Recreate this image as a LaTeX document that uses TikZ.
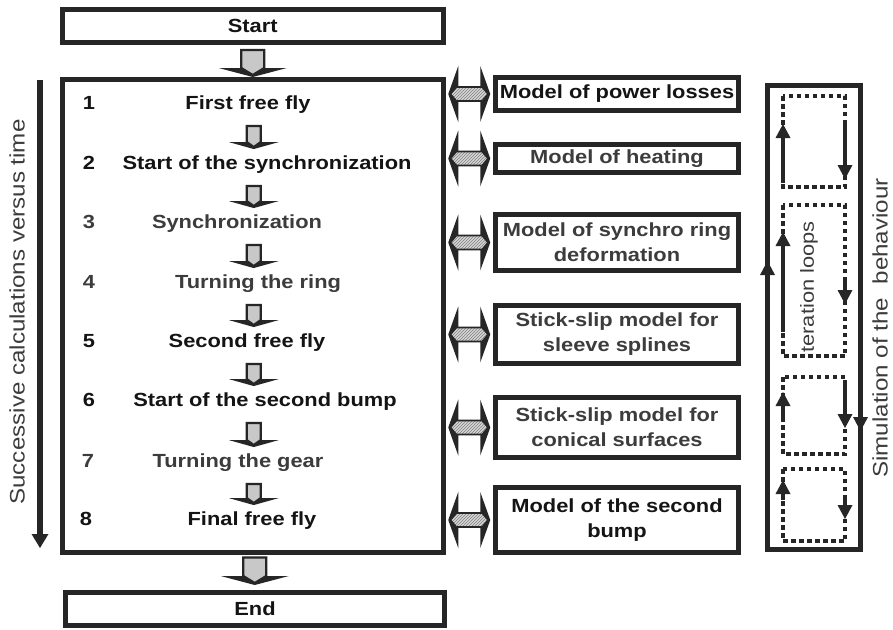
\documentclass[tikz,border=0pt]{standalone}
\usepackage{fontspec}
\setmainfont[FakeStretch=1.15]{Liberation Sans}
\usetikzlibrary{calc,patterns,arrows.meta}
\definecolor{linec}{HTML}{262626}
\definecolor{txtdark}{HTML}{141414}
\definecolor{txtgray}{HTML}{3C3C3C}
\definecolor{arrowgray}{HTML}{C8C8C8}
\definecolor{hatchbg}{HTML}{D6D6D6}

% block arrow: #1 start of shaft, #2 tip, #3 shaft half width, #4 head half width, #5 head length
\newcommand\blockarrow[5]{%
  \fill[linec] let \p1=(#1), \p2=(#2) in
    (\x1-#4pt,\y2+#5pt) -- (\x1+#4pt,\y2+#5pt) -- (\x1,\y2) -- cycle;
  \filldraw[fill=arrowgray, draw=linec, line width=2.2pt, line join=miter] let \p1=(#1), \p2=(#2) in
    (\x1-#3pt,\y1) -- (\x1+#3pt,\y1) -- (\x1+#3pt,\y2+#5pt) -- (\x1,\y2+2pt)
    -- (\x1-#3pt,\y2+#5pt) -- cycle;
}
% double-headed coupling arrow centred on #1
\newcommand\dblarrow[1]{%
  \fill[linec] let \p1=(#1) in
    (\x1-21pt,\y1) -- (\x1-11pt,\y1+28pt) -- (\x1-11pt,\y1+7pt) -- (\x1+11pt,\y1+7pt)
    -- (\x1+11pt,\y1+28pt) -- (\x1+21pt,\y1) -- (\x1+11pt,\y1-28pt) -- (\x1+11pt,\y1-7pt)
    -- (\x1-11pt,\y1-7pt) -- (\x1-11pt,\y1-28pt) -- cycle;
  \path[fill=hatchbg, postaction={pattern=north east lines, pattern color=gray},
        postaction={draw=linec, line width=1.8pt}] let \p1=(#1) in
    (\x1-19pt,\y1) -- (\x1-13pt,\y1+7pt) -- (\x1+13pt,\y1+7pt) -- (\x1+19pt,\y1)
    -- (\x1+13pt,\y1-7pt) -- (\x1-13pt,\y1-7pt) -- cycle;
}

\begin{document}
\begin{tikzpicture}[x=1pt,y=-1pt,
  frame/.style={draw=linec, line width=5pt, rectangle, inner sep=0pt, fill=white},
  steptext/.style={font=\bfseries\fontsize{19}{22}\selectfont, inner sep=0pt,
    text height=13.5pt, text depth=0pt, text=txtdark},
  modelbox/.style={frame, minimum width=243pt, align=center,
    font=\bfseries\fontsize{19}{25}\selectfont, text=txtdark},
  sidetext/.style={rotate=90, font=\fontsize{21}{24}\selectfont, text=txtgray},
  loopline/.style={draw=linec, line width=4pt, dash pattern=on 4.5pt off 3.5pt,
    preaction={draw=white, line width=4pt, solid}},
  looparrow/.style={draw=linec, line width=4pt,
    -{Triangle[length=14pt,width=15pt,line width=0pt]}}
]
\useasboundingbox (0,0) rectangle (893,629);
\fill[white] (0,0) rectangle (893,629);

% start, main block, end
\node[frame, minimum width=380.5pt, minimum height=33pt,
      font=\bfseries\fontsize{19}{22}\selectfont, text=txtdark] (start) at (252.75,26) {Start};
\node[frame, minimum width=380.5pt, minimum height=472.5pt] (main) at (252.75,315.75) {};
\node[frame, minimum width=379pt, minimum height=33pt,
      font=\bfseries\fontsize{19}{22}\selectfont, text=txtdark] (end) at (255,609) {End};

% successive phases
\node[steptext] (n1) at (89,103) {1};
\node[steptext] (s1) at (248,103) {First free fly};
\node[steptext] (n2) at (89,163) {2};
\node[steptext] (s2) at (267,163) {Start of the synchronization};
\node[steptext, text=txtgray] (n3) at (89,222) {3};
\node[steptext, text=txtgray] (s3) at (237,222) {Synchronization};
\node[steptext, text=txtgray] (n4) at (89,282) {4};
\node[steptext, text=txtgray] (s4) at (258,282) {Turning the ring};
\node[steptext] (n5) at (89,341) {5};
\node[steptext] (s5) at (247,341) {Second free fly};
\node[steptext] (n6) at (89,400) {6};
\node[steptext] (s6) at (265,400) {Start of the second bump};
\node[steptext, text=txtgray] (n7) at (88,461) {7};
\node[steptext, text=txtgray] (s7) at (238,461) {Turning the gear};
\node[steptext] (n8) at (86,519) {8};
\node[steptext] (s8) at (252,519) {Final free fly};

% arrows between phases
\blockarrow{$(start.south)+(0,5)$}{main.north}{11.5}{34}{9}
\foreach \a/\b in {s1/s2,s2/s3,s3/s4,s4/s5,s5/s6,s6/s7,s7/s8}{
  \blockarrow{$(main.center |- \a.south)+(1,16)$}{$(main.center |- \b.north)+(1,-7)$}{7}{25}{7}
}
\blockarrow{$(main.south)+(2,3)$}{$(end.north)+(0,-5)$}{11.5}{34}{9}

% time axis
\coordinate (ttop) at (40,80);
\coordinate (tbot) at (40,548);
\draw[linec, line width=6pt, -{Triangle[length=14pt,width=17pt,line width=0pt]}] (ttop) -- (tbot);
\node[sidetext] (timelbl) at (17,312) {Successive calculations versus time};

% sub-models
\node[modelbox, minimum height=33pt] (m1) at (617,94) {Model of power losses};
\node[modelbox, minimum height=28pt, text=txtgray] (m2) at (617,158.5) {Model of heating};
\node[modelbox, minimum height=56pt, text=txtgray] (m3) at (617,242.5) {Model of synchro ring\\deformation};
\node[modelbox, minimum height=58pt, text=txtgray] (m4) at (617,334.5) {Stick-slip model for\\sleeve splines};
\node[modelbox, minimum height=60pt, text=txtgray] (m5) at (617,427.5) {Stick-slip model for\\conical surfaces};
\node[modelbox, minimum height=65pt] (m6) at (617,520) {Model of the second\\bump};

\foreach \m in {m1,m2,m3,m4,m5,m6}{
  \dblarrow{$(main.east |- \m.west)!0.5!(\m.west)$}
}

% simulation frame with iteration loops
\node[sidetext, font=\fontsize{19}{22}\selectfont] (iterlbl) at (809,290) {Iteration loops};
\node[frame, fill=none, minimum width=93pt, minimum height=464pt] (sim) at (814,317.5) {};
\fill[linec] (767.5,261) -- (760,275) -- (775,275) -- cycle;
\fill[linec] (860.5,431) -- (853,417) -- (868,417) -- cycle;

\draw[loopline] (783,96) rectangle (845,187);
\draw[loopline] (783,205) rectangle (845,356);
\draw[loopline] (783,377) rectangle (845,454);
\draw[loopline] (783,469) rectangle (845,541);

\draw[looparrow] (783,183) -- (783,124);
\draw[looparrow] (845,123) -- (845,179);
\draw[looparrow] (783,332) -- (783,232);
\draw[looparrow] (845,277) -- (845,304);
\draw[looparrow] (783,420) -- (783,392);
\draw[looparrow] (845,380) -- (845,428);
\draw[looparrow] (783,500) -- (783,480);
\draw[looparrow] (845,498) -- (845,519);

\node[sidetext] (simlbl) at (880,328) {Simulation of the\ \ behaviour};
\end{tikzpicture}
\end{document}
